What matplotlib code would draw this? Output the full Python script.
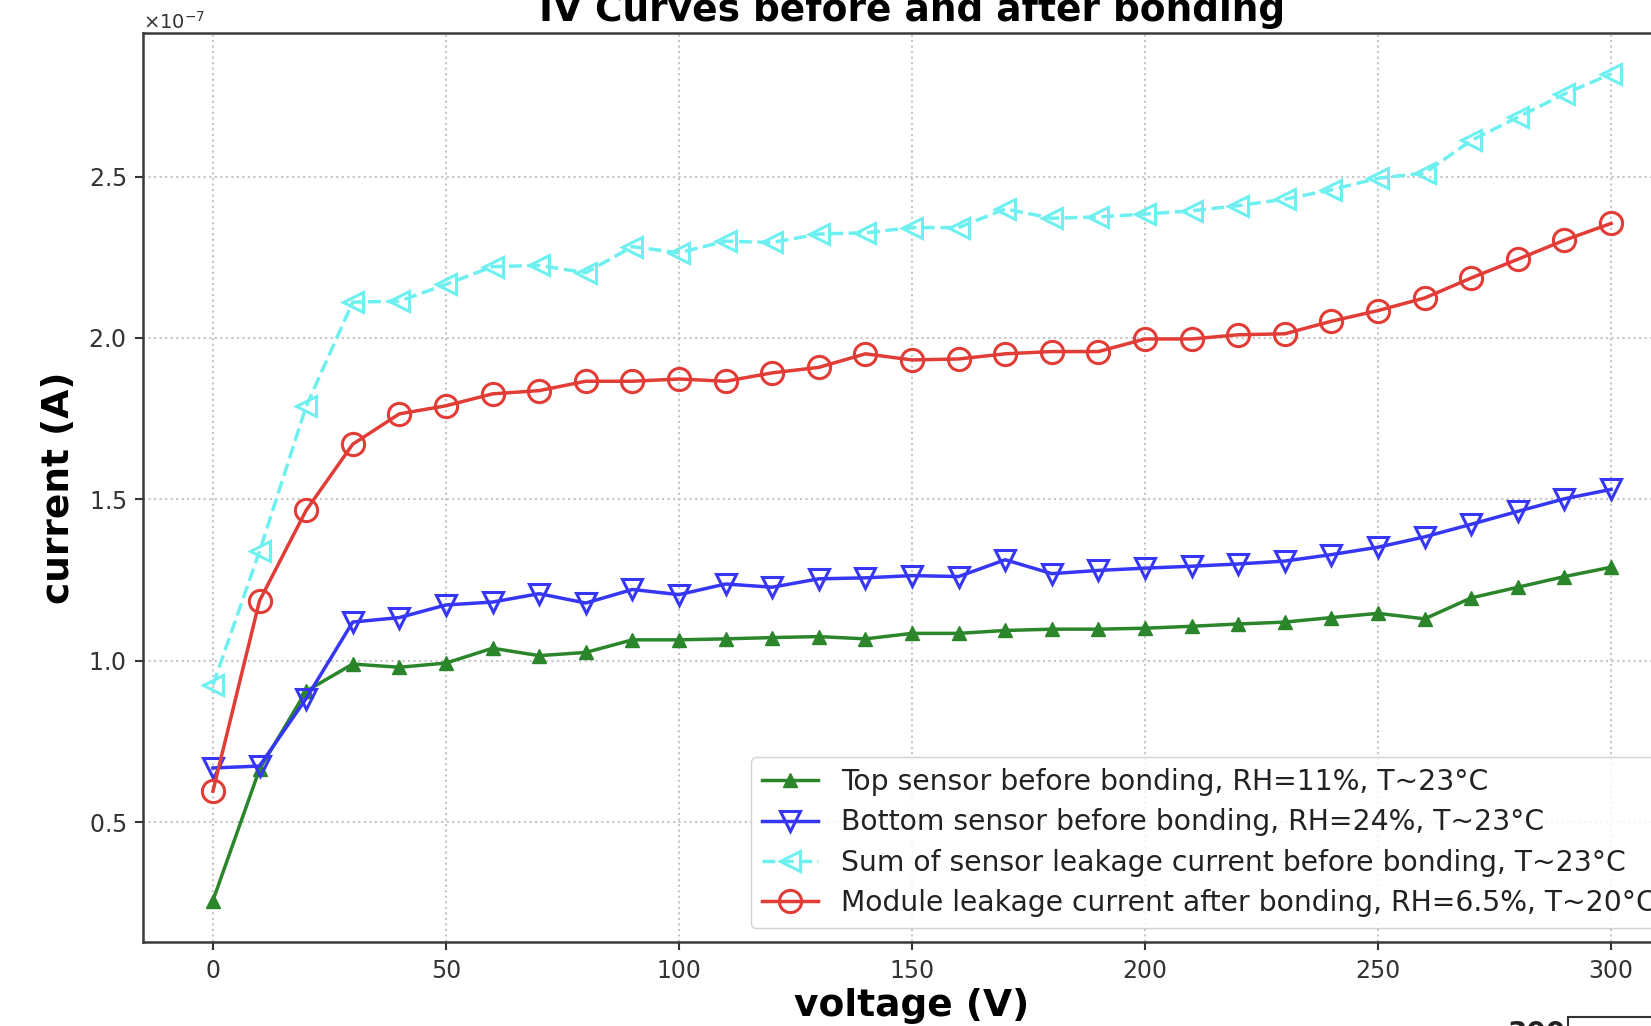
import matplotlib
matplotlib.use("Agg")
import matplotlib.pyplot as plt
from matplotlib.ticker import ScalarFormatter
from matplotlib.patches import Rectangle

# ---- data (current in units of 1e-7 A) ----
voltage = [0, 10, 20, 30, 40, 50, 60, 70, 80, 90, 100, 110, 120, 130, 140, 150,
           160, 170, 180, 190, 200, 210, 220, 230, 240, 250, 260, 270, 280, 290, 300]

top_sensor = [0.257, 0.664, 0.906, 0.990, 0.980, 0.993, 1.039, 1.016, 1.026, 1.065,
              1.065, 1.068, 1.072, 1.075, 1.068, 1.085, 1.085, 1.094, 1.098, 1.098,
              1.101, 1.107, 1.114, 1.120, 1.134, 1.147, 1.130, 1.195, 1.228, 1.261, 1.290]

bottom_sensor = [0.668, 0.674, 0.883, 1.120, 1.134, 1.173, 1.182, 1.208, 1.179, 1.221,
                 1.205, 1.238, 1.228, 1.254, 1.257, 1.264, 1.261, 1.313, 1.270, 1.280,
                 1.287, 1.293, 1.300, 1.309, 1.329, 1.352, 1.384, 1.423, 1.463, 1.502, 1.531]

sum_current = [0.925, 1.339, 1.788, 2.111, 2.114, 2.166, 2.221, 2.225, 2.202, 2.283,
               2.264, 2.300, 2.296, 2.322, 2.326, 2.342, 2.342, 2.400, 2.371, 2.375,
               2.384, 2.394, 2.410, 2.430, 2.459, 2.495, 2.511, 2.612, 2.684, 2.756, 2.818]

module_current = [0.596, 1.186, 1.466, 1.671, 1.765, 1.790, 1.827, 1.837, 1.866, 1.866,
                  1.873, 1.866, 1.892, 1.909, 1.951, 1.932, 1.935, 1.951, 1.958, 1.958,
                  1.997, 1.997, 2.010, 2.013, 2.052, 2.085, 2.124, 2.186, 2.244, 2.303, 2.355]

unit = 1e-7

labels = [
    "Top sensor before bonding, RH=11%, T~23°C",
    "Bottom sensor before bonding, RH=24%, T~23°C",
    "Sum of sensor leakage current before bonding, T~23°C",
    "Module leakage current after bonding, RH=6.5%, T~20°C",
]

title = "IV Curves before and after bonding"
xlabel = "voltage (V)"
ylabel = "current (A)"

# ---- figure ----
W, H = 1651, 1026
fig = plt.figure(figsize=(W / 100, H / 100), dpi=100)
fig.patch.set_facecolor("white")
ax = fig.add_axes([143 / W, 84 / H, 1538 / W, 909.4 / H])

def scaled(vals):
    return [v * unit for v in vals]

ax.plot(voltage, scaled(top_sensor), color="#2b862b", marker="^", markersize=9.5,
        linewidth=2.5, linestyle="-", label=labels[0])
ax.plot(voltage, scaled(bottom_sensor), color="#3636f6", marker="v", markersize=15,
        markerfacecolor="none", markeredgewidth=2.2, linewidth=2.5, linestyle="-",
        label=labels[1])
ax.plot(voltage, scaled(sum_current), color="#6ff0f0", marker="<", markersize=15,
        markerfacecolor="none", markeredgewidth=2.2, linewidth=2.5, linestyle="--",
        label=labels[2])
ax.plot(voltage, scaled(module_current), color="#e23c36", marker="o", markersize=16,
        markerfacecolor="none", markeredgewidth=2.2, linewidth=2.5, linestyle="-",
        label=labels[3])

fmt = ScalarFormatter(useMathText=True)
ax.yaxis.set_major_formatter(fmt)
ax.ticklabel_format(axis="y", style="sci", scilimits=(0, 0))
ax.yaxis.get_offset_text().set_fontsize(14)
ax.yaxis.get_offset_text().set_color("#333333")

ax.grid(True, linestyle=":", color="#c4c4c4", linewidth=1.5)
ax.set_axisbelow(True)

for s in ax.spines.values():
    s.set_color("#3a3a3a")
    s.set_linewidth(1.8)

ax.tick_params(axis="both", labelsize=17, colors="#333333", length=6, width=1.5, pad=6)

ax.set_xlabel(xlabel, fontsize=27, fontweight="bold", labelpad=4)
ax.set_ylabel(ylabel, fontsize=27, fontweight="bold", labelpad=8)
ax.set_title(title, fontsize=27, fontweight="bold", y=1 + 12 / 909.4, pad=0)

leg = ax.legend(loc="lower right", fontsize=20.3, labelspacing=0.43, framealpha=0.85,
                edgecolor="#cccccc", fancybox=True)
for t in leg.get_texts():
    t.set_color("#222222")

# fragment of the next panel visible at the bottom edge of the crop
fig.text(1507 / W, (H - 1020) / H, "300", fontsize=20, fontweight="bold",
         ha="left", va="top", color="#222222")
fig.patches.append(Rectangle((1568 / W, -0.05), 0.2, 0.05 + (H - 1017) / H,
                             transform=fig.transFigure, fill=False,
                             edgecolor="#333333", linewidth=1.5))

fig.savefig("out.png", dpi=100, facecolor="white")
